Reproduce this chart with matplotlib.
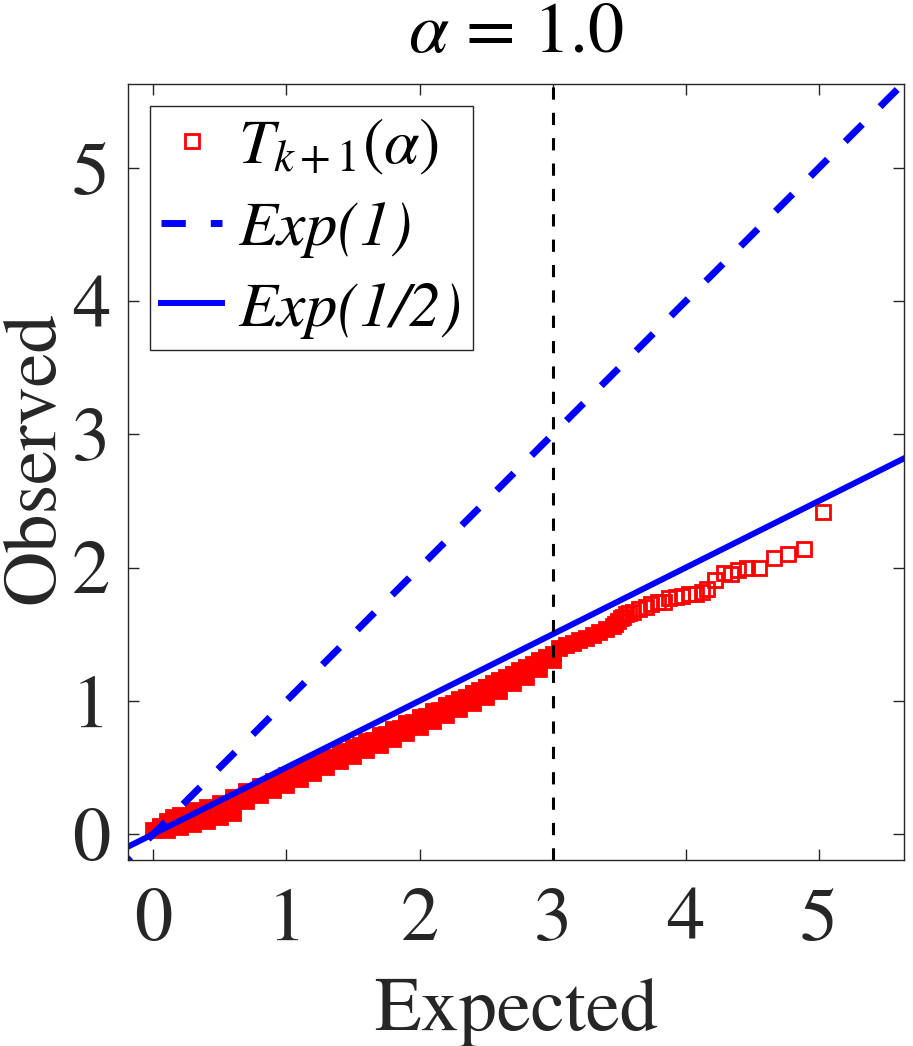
import matplotlib
matplotlib.use('Agg')
import matplotlib.pyplot as plt
from matplotlib.font_manager import FontProperties
import numpy as np

plt.rcParams['font.family'] = ['STIXGeneral', 'DejaVu Serif']
plt.rcParams['mathtext.fontset'] = 'stix'

# dense part of the QQ curve (markers overlap into a solid band)
dense_expected = [0.00, 0.05, 0.10, 0.15, 0.20, 0.25, 0.30, 0.35, 0.40, 0.45,
                  0.50, 0.55, 0.60, 0.65, 0.70, 0.75, 0.80, 0.85, 0.90, 0.95,
                  1.00, 1.05, 1.10, 1.15, 1.20, 1.25, 1.30, 1.35, 1.40, 1.45,
                  1.50, 1.55, 1.60, 1.65, 1.70, 1.75, 1.80, 1.85, 1.90, 1.95,
                  2.00, 2.05, 2.10, 2.15, 2.20, 2.25, 2.30, 2.35, 2.40, 2.45,
                  2.50, 2.55, 2.60, 2.65, 2.70, 2.75, 2.80, 2.85, 2.90, 2.95,
                  3.00, 3.05, 3.10, 3.15, 3.20, 3.25, 3.30, 3.35, 3.40, 3.45]
dense_observed = [0.03, 0.05, 0.07, 0.09, 0.11, 0.125, 0.14, 0.155, 0.17, 0.185,
                  0.20, 0.22, 0.245, 0.265, 0.29, 0.31, 0.335, 0.36, 0.38, 0.40,
                  0.42, 0.445, 0.465, 0.49, 0.51, 0.535, 0.555, 0.575, 0.60, 0.62,
                  0.64, 0.665, 0.685, 0.705, 0.73, 0.75, 0.775, 0.795, 0.82, 0.84,
                  0.865, 0.885, 0.91, 0.93, 0.955, 0.98, 1.005, 1.03, 1.055, 1.08,
                  1.105, 1.13, 1.155, 1.18, 1.205, 1.23, 1.255, 1.28, 1.305, 1.33,
                  1.35, 1.40, 1.42, 1.435, 1.455, 1.475, 1.495, 1.515, 1.54, 1.565]
# upper and lower spread of the band
upper_expected = [0.05, 0.10, 0.15, 0.20, 0.30, 0.40, 0.50, 0.60, 0.70, 0.80,
                  0.90, 1.00, 1.10, 1.20, 1.30, 1.40, 1.50, 1.60, 1.70, 1.80,
                  1.90, 2.00, 2.10, 2.20, 2.30, 2.40, 2.50, 2.60, 2.70, 2.80, 2.90]
upper_observed = [0.06, 0.10, 0.125, 0.145, 0.18, 0.205, 0.235, 0.275, 0.32, 0.36,
                  0.40, 0.44, 0.48, 0.52, 0.565, 0.61, 0.65, 0.695, 0.74, 0.785,
                  0.83, 0.875, 0.92, 0.965, 1.01, 1.055, 1.10, 1.15, 1.20, 1.25, 1.30]
lower_expected = [0.10, 0.20, 0.30, 0.40, 0.50, 0.60, 0.70, 0.80, 0.90, 1.00,
                  1.10, 1.20, 1.30, 1.40, 1.50, 1.60, 1.70, 1.80, 1.90, 2.00,
                  2.10, 2.20, 2.30, 2.40, 2.50, 2.60, 2.70, 2.80, 2.90, 3.00]
lower_observed = [0.03, 0.05, 0.075, 0.10, 0.125, 0.16, 0.25, 0.29, 0.33, 0.37,
                  0.415, 0.46, 0.50, 0.545, 0.585, 0.63, 0.67, 0.715, 0.76, 0.80,
                  0.845, 0.89, 0.935, 0.98, 1.025, 1.07, 1.13, 1.18, 1.24, 1.31]
# sparse upper tail
tail_expected = [3.47, 3.49, 3.51, 3.525, 3.55, 3.57, 3.60, 3.65, 3.70, 3.74,
                 3.79, 3.84, 3.875, 3.925, 3.975, 4.025, 4.075, 4.12, 4.16, 4.22,
                 4.29, 4.34, 4.39, 4.46, 4.55, 4.66, 4.77, 4.89, 5.03]
tail_observed = [1.58, 1.60, 1.62, 1.63, 1.655, 1.66, 1.67, 1.69, 1.705, 1.73,
                 1.74, 1.74, 1.77, 1.78, 1.79, 1.80, 1.805, 1.82, 1.84, 1.905,
                 1.96, 1.955, 1.98, 2.00, 2.00, 2.07, 2.10, 2.14, 2.42]

ref_x = np.array([-0.3, 5.8])
threshold = 3.0
xlim = (-0.19, 5.64)
ylim = (-0.195, 5.63)
ticks = [0, 1, 2, 3, 4, 5]

fig = plt.figure(figsize=(9.13, 10.46), dpi=100)
ax = fig.add_axes([0.1402, 0.1778, 0.850, 0.7419])

red = '#ff0000'
blue = '#0000ff'
msz, mew = 9.4, 2.0
for xs, ys in [(dense_expected, dense_observed), (upper_expected, upper_observed),
               (lower_expected, lower_observed)]:
    ax.plot(xs, ys, 's', color=red, ms=msz, mew=mew, mfc=red)
ax.plot(tail_expected, tail_observed, 's', color=red, ms=msz, mew=mew, mfc='none')
h_pts, = ax.plot([], [], 's', color=red, ms=msz, mew=mew, mfc='none')

h_exp1, = ax.plot(ref_x, ref_x, color=blue, lw=5, linestyle=(0, (3.5, 3.6)))
h_exp2, = ax.plot(ref_x, 0.5 * ref_x, color=blue, lw=4.3)
ax.axvline(threshold, color='black', lw=2.2, linestyle=(0, (4, 4.3)))

ax.set_xlim(*xlim)
ax.set_ylim(*ylim)
ax.set_xticks(ticks)
ax.set_yticks(ticks)
ax.tick_params(direction='in', length=8, width=1, top=True, right=True,
               labelsize=55, colors='0.15')
ax.tick_params(axis='x', pad=20)
ax.tick_params(axis='y', pad=13)
for s in ax.spines.values():
    s.set_color('0.15')
    s.set_linewidth(1)

ax.set_xlabel('Expected', fontsize=55, color='0.15', va='center')
ax.set_ylabel('Observed', fontsize=55, color='0.15', va='center')
ax.xaxis.set_label_coords(0.5, -0.196)
ax.yaxis.set_label_coords(-0.119, 0.518)
ax.text(0.5, 1.063, r'$\alpha$ = 1.0', fontsize=52, ha='center', va='center',
        transform=ax.transAxes)

leg = ax.legend([h_pts, h_exp1, h_exp2],
                [r'$\mathit{T_{k+1}(\alpha)}$', 'Exp(1)', 'Exp(1/2)'],
                prop=FontProperties(family='STIXGeneral', style='italic', size=46),
                loc='upper left', bbox_to_anchor=(0.028, 0.972), borderaxespad=0,
                fancybox=False, edgecolor='0.15', framealpha=1,
                handlelength=0.95, handletextpad=0.25, labelspacing=0.36,
                borderpad=0.18)
leg.get_frame().set_linewidth(1)

fig.savefig('out.png', dpi=100)
